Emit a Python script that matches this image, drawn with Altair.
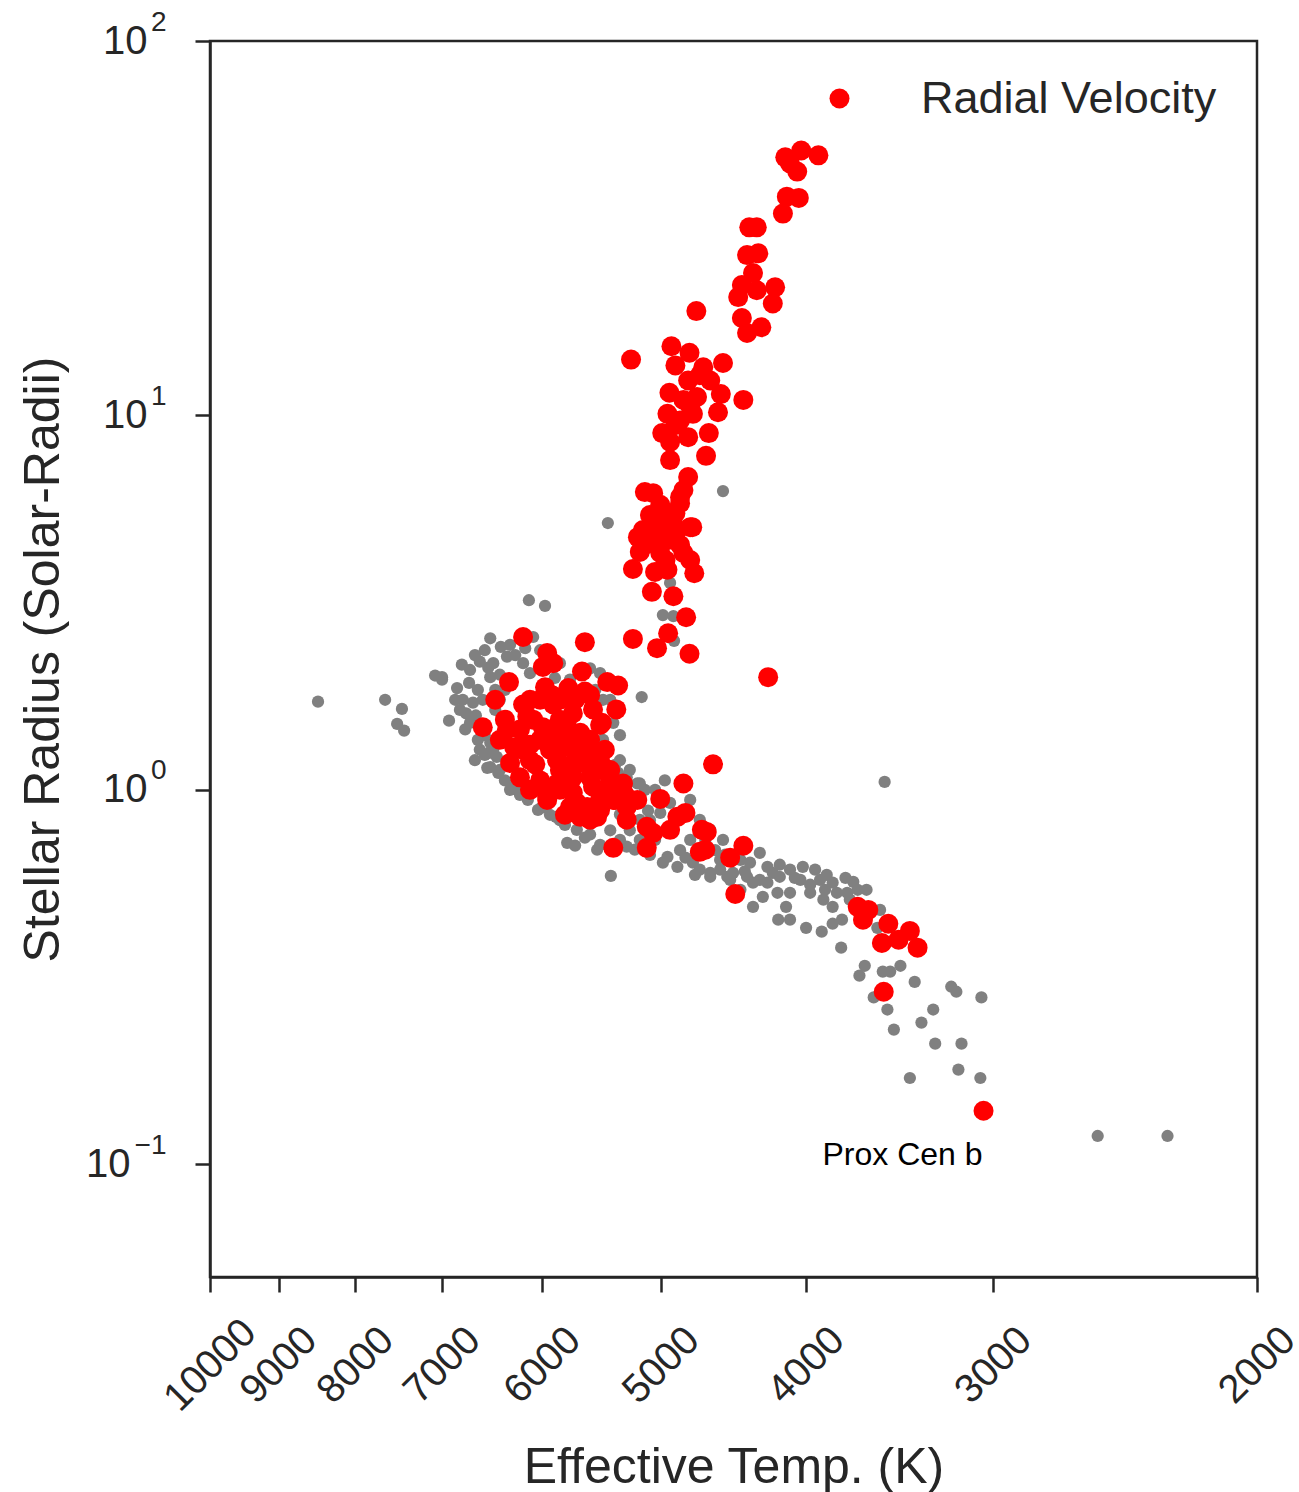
import altair as alt
import pandas as pd

# Radial-velocity host stars: (effective temperature K, stellar radius in solar radii)
rv_stars = [
    (4130, 48.9), (4030, 51.0), (3925, 49.5), (4055, 44.8), (4100, 47.1), (4120, 38.4),
    (4045, 38.1), (4145, 34.6), (4365, 31.8), (4315, 31.8), (4380, 26.8), (4305, 27.1),
    (4340, 24.0), (4415, 22.3), (4440, 20.7), (4315, 21.6), (4195, 22.0), (4210, 19.9),
    (4735, 19.0), (4415, 18.2), (4285, 17.2), (4380, 16.6), (5235, 14.1), (4920, 15.3),
    (4785, 14.7), (4890, 13.6), (4545, 13.8), (4685, 13.45), (4635, 12.4), (4795, 12.4),
    (4935, 11.5), (4560, 11.4), (4405, 11.0), (4730, 11.2), (4830, 11.0), (4580, 10.2),
    (4950, 10.1), (4760, 10.1), (4855, 9.7), (4990, 8.97), (4795, 8.75), (4930, 8.5),
    (4645, 8.97), (4930, 7.6), (4665, 7.8), (4795, 6.85), (5125, 6.24), (5060, 6.2),
    (4830, 6.32), (4855, 5.83), (4890, 5.48), (4780, 5.03), (5000, 5.35), (5140, 4.94),
    (5030, 4.94), (4855, 6.05), (4950, 5.48), (5030, 5.16), (5180, 4.73), (4765, 5.03),
    (5060, 4.56), (4945, 4.65), (5165, 4.32), (5005, 4.29), (4830, 4.29), (4780, 4.11),
    (5220, 3.89), (5045, 3.82), (4950, 3.87), (4750, 3.79), (5070, 3.38), (4905, 3.29),
    (4810, 2.89), (4945, 2.62), (5220, 2.53), (5030, 2.39), (4785, 2.31), (4240, 2.0),
    (5620, 2.48), (6180, 2.56), (5955, 2.32), (5900, 2.18), (5995, 2.13), (5645, 2.07),
    (5430, 1.94), (5340, 1.90), (6315, 1.94), (5975, 1.88), (5765, 1.87), (5620, 1.83),
    (6180, 1.69), (6020, 1.74), (5900, 1.69), (6575, 1.47), (6355, 1.54), (6140, 1.57),
    (6085, 1.54), (5725, 1.60), (5550, 1.64), (5475, 1.51), (5355, 1.64), (5995, 1.47),
    (5775, 1.47), (5660, 1.42), (6265, 1.30), (6020, 1.36), (5810, 1.30), (5600, 1.30),
    (6305, 1.18), (6115, 1.20), (5865, 1.20), (5660, 1.18), (5550, 1.18), (6210, 1.08),
    (6020, 1.06), (5760, 1.08), (5575, 1.08), (5955, 0.958), (5725, 0.982), (5600, 0.90),
    (5430, 0.98), (5325, 1.02), (5270, 0.90), (5515, 0.847), (6335, 1.45), (6180, 1.28),
    (5995, 1.02), (5955, 0.94), (5750, 0.90), (5660, 0.847), (5575, 0.832), (5660, 1.25),
    (5865, 1.36), (5725, 1.08), (5550, 1.02), (5490, 1.49), (5405, 1.06), (5300, 1.04),
    (5185, 0.94), (5005, 0.946), (4830, 1.04), (4615, 1.17), (5110, 0.797), (5060, 0.767),
    (5110, 0.70), (4930, 0.782), (4815, 0.868), (4875, 0.847), (4695, 0.782), (4710, 0.683),
    (5380, 0.70), (5550, 0.847), (5690, 0.923), (5270, 0.832), (4495, 0.659), (4405, 0.709),
    (4460, 0.527), (3695, 0.487), (3635, 0.478), (3665, 0.45), (3525, 0.439), (3410, 0.42),
    (3470, 0.398), (3560, 0.39), (3370, 0.379), (3550, 0.289), (3045, 0.139), (4670, 0.692),
    (4660, 0.772), (6115, 1.74), (5840, 1.74), (6210, 1.45), (5930, 1.28), (5840, 1.13),
    (6115, 1.0), (5865, 1.04), (5490, 0.94), (5380, 0.94), (5705, 1.20), (5490, 1.20),
    (5840, 1.54), (5575, 1.36), (6450, 1.74), (6405, 1.36), (6160, 1.32), (6065, 1.17),
    (5930, 1.45), (5840, 1.0), (5705, 1.36), (5450, 1.28), (5490, 1.13), (5365, 0.94),
    (5285, 0.97), (5490, 0.884), (5795, 0.858), (6115, 1.32), (5910, 1.79), (5705, 1.74),
    (5575, 1.79), (5405, 1.13), (5005, 5.77), (5085, 5.42), (4905, 5.10), (5125, 4.51),
    (4890, 4.79), (4965, 4.11), (4855, 4.51), (4710, 12.8), (4780, 10.6), (4890, 9.42),
]

# All exoplanet host stars
all_stars = [
    (8470, 1.72), (7640, 1.74), (7445, 1.645), (7500, 1.50), (7420, 1.44), (7075, 2.02),
    (7000, 1.97), (6925, 1.53), (6840, 1.87), (6715, 1.93), (6625, 1.85), (6780, 1.74),
    (6810, 1.635), (6675, 1.71), (6575, 1.74), (6500, 2.54), (6520, 2.12), (6530, 1.145),
    (6510, 1.255), (6395, 2.41), (6085, 2.56), (7000, 2.0), (6470, 2.18), (6335, 2.27),
    (6180, 2.18), (6500, 2.0), (6450, 1.85), (6115, 2.05), (5840, 2.18), (5490, 2.05),
    (5465, 1.74), (5150, 1.77), (6500, 1.335), (6435, 1.225), (6500, 1.15), (5465, 1.36),
    (5380, 1.51), (5515, 1.30), (5430, 1.13), (5270, 1.08), (6135, 0.94), (6040, 0.884),
    (5185, 1.04), (6705, 1.51), (6470, 1.28), (6420, 1.11), (6180, 1.01), (6010, 0.895),
    (5875, 0.847), (5690, 0.782), (5775, 0.722), (5515, 0.692), (6125, 3.21), (5975, 3.10),
    (5425, 5.16), (4545, 6.28), (4930, 3.57), (4985, 2.93), (4905, 2.91), (4900, 2.50),
    (3545, 1.05), (5400, 0.589), (5340, 1.11), (5165, 1.04), (4930, 0.923), (5005, 0.868),
    (5270, 0.705), (5165, 0.735), (4950, 0.662), (4875, 0.623), (4985, 0.639), (4710, 0.832),
    (4635, 0.782), (4760, 0.639), (4635, 0.586), (4710, 0.612), (4515, 0.586), (4295, 0.679),
    (4245, 0.623), (4380, 0.586), (4295, 0.575), (4210, 0.60), (4425, 0.65), (4545, 0.735),
    (4360, 0.639), (4475, 0.60), (4635, 0.60), (4100, 0.612), (4020, 0.623), (4165, 0.586),
    (4340, 0.565), (4245, 0.565), (4275, 0.518), (4180, 0.531), (4100, 0.531), (4035, 0.575),
    (3975, 0.558), (3915, 0.575), (3875, 0.593), (3840, 0.565), (3815, 0.531), (3720, 0.568),
    (3645, 0.541), (3975, 0.531), (3895, 0.509), (3840, 0.487), (3755, 0.531), (4340, 0.487),
    (4125, 0.487), (4175, 0.45), (4100, 0.45), (4000, 0.428), (3905, 0.418), (3840, 0.439),
    (3790, 0.379), (3785, 0.45), (3570, 0.478), (3585, 0.428), (3655, 0.339), (3685, 0.319),
    (3555, 0.327), (3515, 0.327), (3460, 0.339), (3385, 0.307), (3200, 0.298), (3175, 0.289),
    (3055, 0.279), (3605, 0.279), (3530, 0.259), (3290, 0.259), (3350, 0.239), (3495, 0.229),
    (3280, 0.210), (3150, 0.210), (3165, 0.179), (3410, 0.170), (3060, 0.170), (2555, 0.119),
    (2295, 0.119), (6745, 1.60), (6645, 1.58), (6555, 1.40), (6405, 1.74), (6355, 1.85),
    (6450, 1.635), (6625, 1.36), (6555, 1.24), (6405, 2.03), (6255, 2.29), (6160, 2.39),
    (6020, 2.36), (5885, 1.99), (5750, 1.97), (5575, 2.11), (5530, 1.85), (5405, 1.74),
    (5325, 1.40), (5325, 1.20), (5365, 1.0), (6355, 1.06), (6305, 1.0), (5840, 0.83),
    (5575, 0.76), (5705, 0.71), (5405, 0.78), (5245, 0.78), (5085, 0.83), (5100, 0.88),
    (5325, 0.86), (5045, 1.0), (4970, 1.06), (4780, 0.94), (4780, 0.735), (4600, 0.69),
    (4565, 0.65), (4855, 0.69), (6790, 2.16), (6655, 2.29), (6555, 2.36), (6305, 2.44),
    (6705, 2.09), (6605, 2.20), (6860, 1.74), (6755, 1.45), (6655, 1.20), (6605, 1.28),
    (6405, 1.13), (6255, 1.03), (6210, 0.97), (5930, 0.858), (5795, 0.806), (5620, 0.745),
    (5490, 0.713), (5325, 0.735), (5205, 0.692), (5085, 0.67), (4815, 0.659), (4745, 0.593),
    (4565, 0.612), (4495, 0.575), (4395, 0.606), (4165, 0.631), (4070, 0.582), (3945, 0.612),
    (3765, 0.582), (3695, 0.541), (3885, 0.541), (3740, 0.509), (4425, 0.541), (5165, 0.832),
    (5045, 0.735), (4670, 0.735), (4530, 0.671), (5325, 0.94), (5365, 1.166), (5245, 1.131),
    (5125, 1.0),
]

survey_name = "Radial Velocity"
note_name = "Prox Cen b"
note_star = (3045, 0.139)

x_ticks = [10000, 9000, 8000, 7000, 6000, 5000, 4000, 3000, 2000]
y_ticks = [0.1, 1, 10, 100]

gray_df = pd.DataFrame(all_stars, columns=["teff", "radius"])
rv_df = pd.DataFrame(rv_stars, columns=["teff", "radius"])
rv_df["survey"] = survey_name
note_df = pd.DataFrame([{"teff": note_star[0], "radius": note_star[1], "name": note_name}])
decade_df = pd.DataFrame({"radius": y_ticks})

FONT = "Liberation Sans"
INK = "#262626"

x_scale = alt.Scale(type="log", domain=[2000, 10000], reverse=True, nice=False)
y_scale = alt.Scale(type="log", domain=[0.05, 100], nice=False)

x_enc = alt.X(
    "teff:Q",
    scale=x_scale,
    axis=alt.Axis(
        values=x_ticks, format="d", title="Effective Temp. (K)",
        labelAngle=-45, labelAlign="center", labelBaseline="middle",
        labelPadding=73, labelOverlap=False, labelFlush=False,
        titleX=523.5, titleY=190, titleBaseline="middle", titleAlign="center",
    ),
)

# Main radius axis: line, ticks, title and the "10" of the positive decades
y_main = alt.Y(
    "radius:Q",
    scale=y_scale,
    axis=alt.Axis(
        orient="left", values=y_ticks, title="Stellar Radius (Solar-Radii)",
        labelExpr="datum.value < 1 ? '' : '10'",
        labelAlign="right", labelBaseline="middle", labelPadding=48,
        titleX=-167, titleY=618, titleAngle=-90, titleBaseline="middle", titleAlign="center",
    ),
)

# "10" of the 10^-1 label, pushed left to leave room for its two-character exponent
y_neg = alt.Y(
    "radius:Q",
    scale=y_scale,
    axis=alt.Axis(
        orient="left", values=[0.1], title=None, domain=False, tickOpacity=0,
        labelExpr="'10'", labelAlign="right", labelBaseline="middle", labelPadding=65,
    ),
)

# Raised exponent of each decade label
y_exp = alt.Y(
    "radius:Q",
    scale=y_scale,
    axis=alt.Axis(
        orient="left", values=y_ticks, title=None, domain=False, tickOpacity=0,
        labelExpr="datum.value >= 100 ? '2' : datum.value >= 10 ? '1' : datum.value >= 1 ? '0' : '\u22121'",
        labelAlign="right", labelBaseline="middle", labelPadding=29, labelOffset=-19,
        labelFontSize=28,
    ),
)

y_plain = alt.Y("radius:Q", scale=y_scale, axis=None)

gray = alt.Chart(gray_df).mark_circle(size=150, color="#808080", opacity=1).encode(x=x_enc, y=y_main)

red = alt.Chart(rv_df).mark_circle(size=400, opacity=1).encode(
    x=x_enc, y=y_plain,
    color=alt.Color(
        "survey:N",
        scale=alt.Scale(domain=[survey_name], range=["#ff0000"]),
        legend=alt.Legend(
            title=None, orient="none", legendX=607, legendY=35,
            symbolType="circle", symbolSize=400, symbolStrokeWidth=0, symbolOpacity=1,
            labelFontSize=45, labelOffset=59, labelLimit=0, labelFont=FONT, labelColor=INK,
        ),
    ),
)

note = alt.Chart(note_df).mark_text(
    align="right", baseline="middle", dx=-1, dy=44, fontSize=32, font=FONT, color="black"
).encode(x=x_enc, y=y_plain, text="name:N")

neg_mantissa = alt.Chart(decade_df).mark_point(opacity=0).encode(y=y_neg)
exponents = alt.Chart(decade_df).mark_point(opacity=0).encode(y=y_exp)

chart = (
    alt.layer(gray, red, note, neg_mantissa, exponents)
    .resolve_axis(y="independent")
    .properties(
        width=1047, height=1236,
        autosize=alt.AutoSizeParams(type="none"),
        padding={"left": 210, "top": 41, "right": 42, "bottom": 215},
        background="white",
    )
    .configure_view(stroke=INK, strokeWidth=2.5)
    .configure_axis(
        grid=False, domainColor=INK, domainWidth=2.5, tickColor=INK, tickWidth=2.5,
        tickSize=15, labelFont=FONT, labelFontSize=40, labelColor=INK,
        titleFont=FONT, titleFontSize=50, titleColor=INK, titleFontWeight="normal",
    )
)

chart.save("out.html", embed_options={"renderer": "svg", "actions": False})
